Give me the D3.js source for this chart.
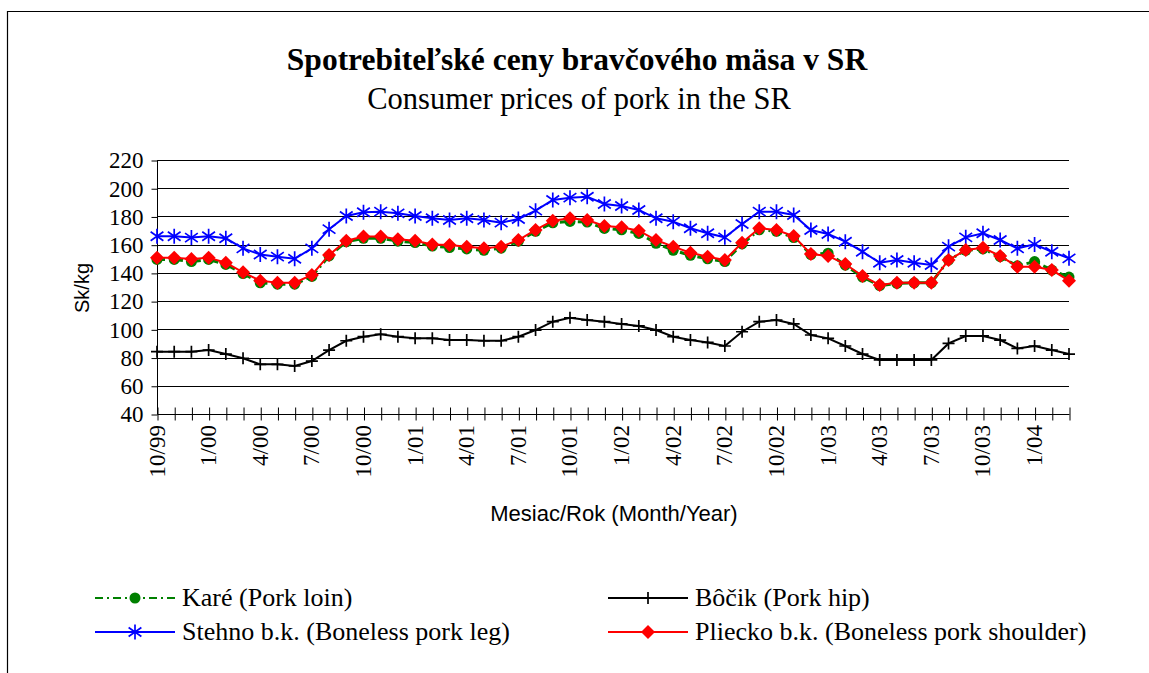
<!DOCTYPE html>
<html>
  <head>
    <meta charset="utf-8" />
    <title>Consumer prices of pork</title>
    <style>
      body {
        margin: 0;
        background: #fff;
      }
    </style>
    <script src="https://d3js.org/d3.v7.min.js"></script>
  </head>
  <body>
    <div id="chart"></div>
    <script>
      var SERIF = '"Liberation Serif", "Times New Roman", serif';
      var SANS = '"Liberation Sans", Arial, sans-serif';

      // months 10/99 .. 3/04, labels shown every 3rd month
      var months = [];
      var startYear = 1999, startMonth = 10;
      for (var i = 0; i < 54; i++) {
        var m = (startMonth - 1 + i) % 12 + 1;
        var y = startYear + Math.floor((startMonth - 1 + i) / 12);
        months.push(m + "/" + String(y).slice(2));
      }
      var yTicks = [40, 60, 80, 100, 120, 140, 160, 180, 200, 220];

      // Karé (Pork loin)
      var kare = [149.5, 149.5, 148, 149.5, 146, 139.5, 133, 132, 132, 137.5,
        152, 162, 164.5, 164.5, 162.5, 161.5, 159, 158, 157, 156,
        157.5, 162.5, 169.5, 175.5, 176.5, 176, 171.5, 170.5, 168, 161,
        156, 152.5, 150, 148, 160.5, 170.5, 169.5, 165, 153, 154,
        145.5, 137, 131, 132.5, 133, 133, 149, 156, 157, 151.5,
        145, 148, 142, 137];
      // Bôčik (Pork hip)
      var bocik = [84.2, 84.2, 84.2, 85.3, 82.5, 79.5, 75.2, 75.2, 74, 77.5,
        85.3, 91.9, 94.8, 96.5, 94.8, 93.6, 93.6, 92.4, 92.4, 91.9,
        91.9, 94.8, 99.5, 105.4, 108.2, 106.6, 105.4, 103.8, 102.4, 99.5,
        94.8, 92.4, 90.7, 88.2, 98.3, 105.4, 106.6, 103.8, 96, 93.6,
        88.2, 82.5, 78.3, 78.3, 78.3, 78.3, 90, 95.3, 95.3, 92.4,
        86.5, 88.2, 85.3, 82.5];
      // Stehno b.k. (Boneless pork leg)
      var stehno = [166, 166, 165, 166, 164.5, 157.4, 153, 151.5, 150, 157.4,
        171, 180.3, 183, 183.4, 182.2, 180.3, 178.7, 177.5, 178.7, 177.5,
        175.6, 178.2, 184.1, 191.7, 193.3, 194, 188.8, 187.4, 184.6, 178.7,
        176.3, 171.6, 168.1, 165.2, 174.6, 183.4, 183.4, 181, 170.4, 167.6,
        162.1, 155, 147.2, 149.1, 147.2, 145.6, 158.6, 165.2, 168.1, 163.3,
        157.4, 160.2, 155, 150.3];
      // Pliecko b.k. (Boneless pork shoulder)
      var pliecko = [150.8, 150.8, 149.8, 150.8, 147.2, 140.4, 134.5, 133.1, 133.1, 138.5,
        152.7, 162.8, 165.7, 165.7, 163.8, 162.8, 160.2, 159.8, 158.6, 157.4,
        158.6, 163.3, 170.4, 177, 178.7, 177.5, 173.2, 172.3, 169.9, 163.3,
        158.6, 154.3, 151.5, 149.1, 161.4, 171.6, 170.4, 166.1, 153.4, 152,
        146.3, 137.8, 131.4, 133.1, 133.1, 133.1, 149.1, 156.2, 157.8, 152,
        144.4, 144.4, 142, 134.5];

      var seriesNames = ["Karé (Pork loin)", "Bôčik (Pork hip)",
        "Stehno b.k. (Boneless pork leg)", "Pliecko b.k. (Boneless pork shoulder)"];

      var W = 1149, H = 673;
      var svg = d3.select("#chart").append("svg")
        .attr("width", W).attr("height", H);

      // outer frame
      svg.append("path")
        .attr("d", "M7.5," + (H + 5) + "V11.5H" + (W + 5))
        .attr("fill", "none").attr("stroke", "#000").attr("stroke-width", 1.2);

      svg.append("text")
        .style("font-family", SERIF)
        .attr("x", 577).attr("y", 70).attr("text-anchor", "middle")
        .attr("font-size", 31.5).attr("font-weight", "bold")
        .text("Spotrebiteľské ceny bravčového mäsa v SR");
      svg.append("text")
        .style("font-family", SERIF)
        .attr("x", 579).attr("y", 109).attr("text-anchor", "middle")
        .attr("font-size", 30.5)
        .text("Consumer prices of pork in the SR");

      var x = d3.scaleLinear().domain([0, months.length - 1]).range([157, 1069]);
      var yS = d3.scaleLinear().domain([40, 220]).range([414, 160]);

      // gridlines
      svg.append("g").selectAll("line").data(yTicks.filter(function (d) { return d > 40; }))
        .join("line")
        .attr("x1", 157).attr("x2", 1069)
        .attr("y1", function (d) { return Math.round(yS(d)) + 0.5; })
        .attr("y2", function (d) { return Math.round(yS(d)) + 0.5; })
        .attr("stroke", "#000").attr("stroke-width", 1);

      // y axis
      var yAxis = svg.append("g").attr("transform", "translate(157.5,0.5)")
        .call(d3.axisLeft(yS).tickValues(yTicks).tickSize(6).tickPadding(8));
      yAxis.select(".domain").attr("d", "M0," + yS(220) + "V" + yS(40));
      yAxis.selectAll("text").style("font-family", SERIF).style("font-size", "23px").attr("fill", "#000");

      // x axis with crossing ticks
      var xAxis = svg.append("g").attr("transform", "translate(0.5," + (Math.round(yS(40)) + 0.5) + ")")
        .call(d3.axisBottom(x).tickValues(d3.range(months.length)).tickSize(6).tickFormat(""));
      xAxis.select(".domain").attr("d", "M" + x(0) + ",0H" + x(months.length - 1));
      xAxis.selectAll(".tick line").attr("y1", -7).attr("y2", 6);

      svg.append("g").selectAll("text").data(d3.range(0, months.length, 3))
        .join("text")
        .style("font-family", SERIF).style("font-size", "23px")
        .attr("text-anchor", "end")
        .attr("transform", function (d) {
          return "translate(" + (x(d) + 7.5) + ",425) rotate(-90)";
        })
        .text(function (d) { return months[d]; });

      svg.append("text")
        .style("font-family", SANS).style("font-size", "20px")
        .attr("text-anchor", "middle")
        .attr("transform", "translate(89,288) rotate(-90)")
        .text("Sk/kg");
      svg.append("text")
        .style("font-family", SANS).style("font-size", "22px")
        .attr("text-anchor", "middle")
        .attr("x", 614).attr("y", 521)
        .text("Mesiac/Rok (Month/Year)");

      var line = d3.line()
        .x(function (d, i) { return x(i); })
        .y(function (d) { return yS(d); });

      function star(g, r) {
        g.append("path").attr("d", "M0," + (-r) + "V" + r + "M" + (-r * 0.85) + "," + (-r * 0.6) + "L" + (r * 0.85) + "," + (r * 0.6) +
          "M" + (-r * 0.85) + "," + (r * 0.6) + "L" + (r * 0.85) + "," + (-r * 0.6))
          .attr("stroke", "#0000ff").attr("stroke-width", 1.7).attr("fill", "none");
      }
      function plus(g, r) {
        g.append("path").attr("d", "M0," + (-r) + "V" + r + "M" + (-r) + ",0H" + r)
          .attr("stroke", "#000").attr("stroke-width", 1.7).attr("fill", "none");
      }
      function diamond(g, r) {
        g.append("path").attr("d", "M0," + (-r) + "L" + r + ",0L0," + r + "L" + (-r) + ",0Z")
          .attr("fill", "#ff0000");
      }
      function dot(g, r) {
        g.append("circle").attr("r", r).attr("fill", "#008000");
      }

      var series = [
        { vals: kare, color: "#008000", width: 3, dash: "8,4,2,4", marker: dot, size: 5.5 },
        { vals: bocik, color: "#000", width: 2, dash: null, marker: plus, size: 6 },
        { vals: stehno, color: "#0000ff", width: 2, dash: null, marker: star, size: 7.5 },
        { vals: pliecko, color: "#ff0000", width: 2, dash: null, marker: diamond, size: 7 }
      ];

      series.forEach(function (s) {
        svg.append("path").datum(s.vals)
          .attr("d", line)
          .attr("fill", "none")
          .attr("stroke", s.color)
          .attr("stroke-width", s.width)
          .attr("stroke-dasharray", s.dash);
        svg.append("g").selectAll("g").data(s.vals).join("g")
          .attr("transform", function (d, i) { return "translate(" + x(i) + "," + yS(d) + ")"; })
          .each(function () { s.marker(d3.select(this), s.size); });
      });

      // legend
      var legendPos = [[95, 598], [608, 598], [95, 632], [608, 632]];
      series.forEach(function (s, i) {
        var lx = legendPos[i][0], ly = legendPos[i][1];
        var lg = svg.append("g").attr("transform", "translate(" + lx + "," + ly + ")");
        lg.append("line").attr("x1", 0).attr("x2", 80)
          .attr("stroke", s.color).attr("stroke-width", 2)
          .attr("stroke-dasharray", s.dash);
        var mg = lg.append("g").attr("transform", "translate(40,0)");
        s.marker(mg, s.size);
        lg.append("text")
          .style("font-family", SERIF).style("font-size", "26px")
          .attr("x", 87).attr("y", 8)
          .text(seriesNames[i]);
      });
    </script>
  </body>
</html>
